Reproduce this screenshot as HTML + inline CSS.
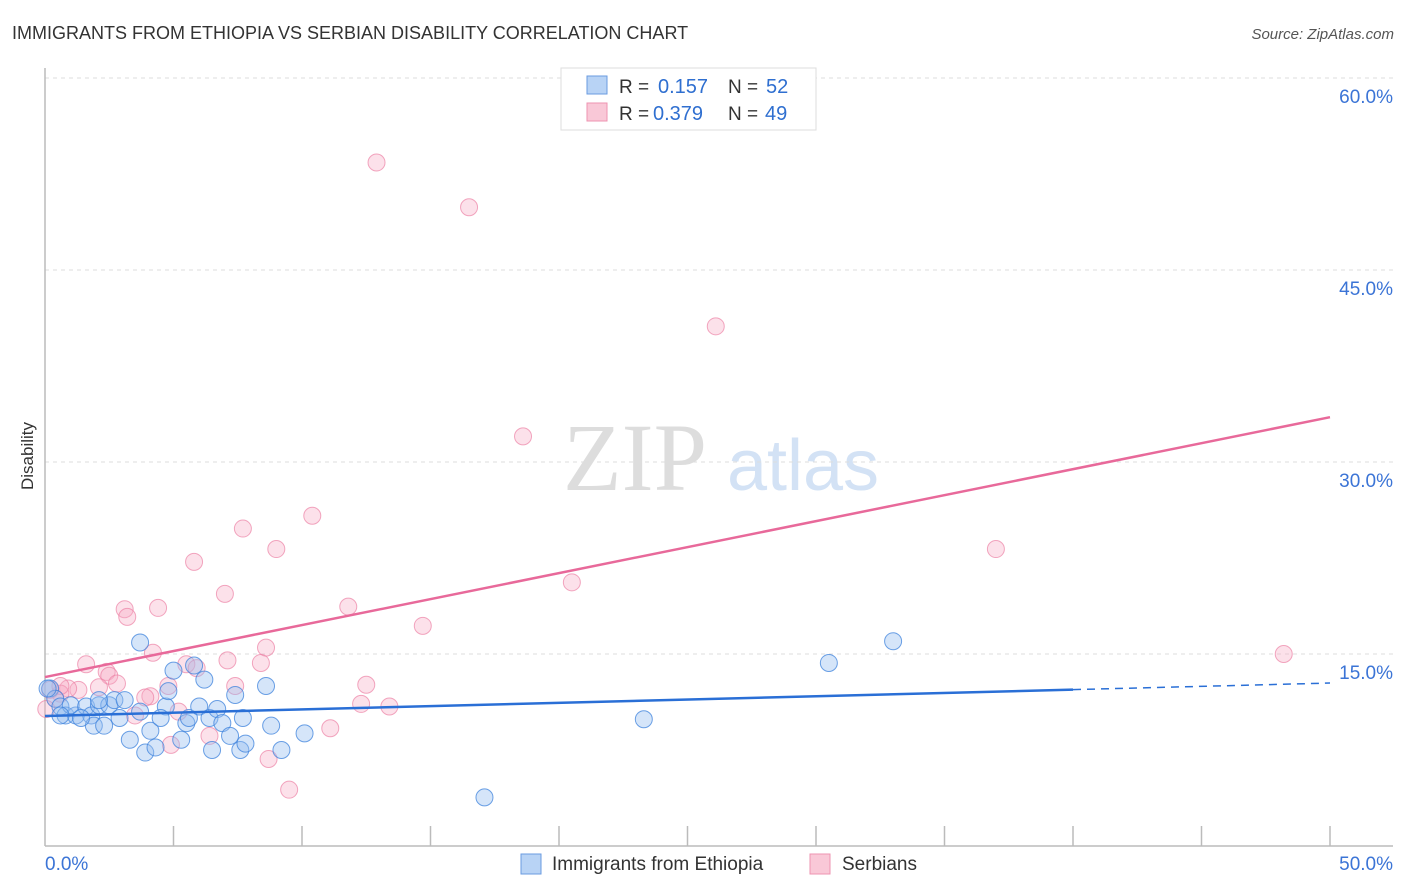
<!DOCTYPE html>
<html><head><meta charset="utf-8"><style>
body{margin:0;background:#fff;font-family:"Liberation Sans",sans-serif;}
svg{display:block}
</style></head><body>
<svg id="chart" width="1406" height="892">
<text x="12" y="39" font-size="18" fill="#333">IMMIGRANTS FROM ETHIOPIA VS SERBIAN DISABILITY CORRELATION CHART</text>
<text x="1394" y="39" font-size="15" fill="#555" font-style="italic" text-anchor="end">Source: ZipAtlas.com</text>
<text x="33" y="456" font-size="17" fill="#333" text-anchor="middle" transform="rotate(-90 33 456)">Disability</text>
<g>
<text x="635" y="490" font-size="96" fill="#ddd" font-family="Liberation Serif,serif" text-anchor="middle">ZIP</text>
<text x="803" y="490" font-size="72" fill="#d3e2f5" text-anchor="middle">atlas</text>
</g>
<g id="grid"></g>
<g id="axes"></g>
<g id="pts"></g>
<g id="lines"></g>
<g>
<rect x="561" y="68" width="255" height="62" fill="#fff" stroke="#ddd"/>
<rect x="587" y="76" width="20" height="18" fill="#b8d3f5" stroke="#6a9be0"/>
<rect x="587" y="103" width="20" height="18" fill="#f9c8d7" stroke="#ee93b0"/>
<text x="619" y="93" font-size="19" fill="#333">R =</text>
<text x="658" y="93" font-size="20" fill="#2f6fd0">0.157</text>
<text x="728" y="93" font-size="19" fill="#333">N =</text>
<text x="766" y="93" font-size="20" fill="#2f6fd0">52</text>
<text x="619" y="120" font-size="19" fill="#333">R =</text>
<text x="653" y="120" font-size="20" fill="#2f6fd0">0.379</text>
<text x="728" y="120" font-size="19" fill="#333">N =</text>
<text x="765" y="120" font-size="20" fill="#2f6fd0">49</text>
</g>
<g>
<rect x="521" y="854" width="20" height="20" fill="#b8d3f5" stroke="#6a9be0"/>
<text x="552" y="870" font-size="19" fill="#333">Immigrants from Ethiopia</text>
<rect x="810" y="854" width="20" height="20" fill="#f9c8d7" stroke="#ee93b0"/>
<text x="842" y="870" font-size="19" fill="#333">Serbians</text>
</g>
</svg>
<script>
const yTicks=[15,30,45,60];
const xTickLabels=["0.0%","50.0%"];
const blueX=[0.2,0.4,0.6,0.8,1.2,1.0,1.6,1.8,1.9,2.1,2.3,2.5,2.7,2.9,3.1,3.3,3.7,3.7,3.9,4.1,4.3,4.7,4.8,5.0,5.3,5.5,5.6,5.8,6.0,6.2,6.4,6.5,6.7,6.9,7.2,7.4,7.6,7.7,7.8,8.6,8.8,9.2,10.1,17.1,23.3,30.5,33.0,0.6,1.4,4.5,2.1,0.1];
const blueY=[12.3,11.5,10.9,10.2,10.2,11.0,10.9,10.2,9.4,11.0,9.4,11.0,11.4,10.0,11.4,8.3,15.9,10.5,7.3,9.0,7.7,10.9,12.1,13.7,8.3,9.6,10.0,14.1,10.9,13.0,10.0,7.5,10.7,9.6,8.6,11.8,7.5,10.0,8.0,12.5,9.4,7.5,8.8,3.8,9.9,14.3,16.0,10.2,10.0,10.0,11.4,12.3];
const pinkX=[12.9,16.5,26.1,18.6,37.0,20.5,48.2,10.4,7.7,9.0,5.8,7.0,11.8,3.1,4.4,3.2,14.7,8.6,4.2,1.6,8.4,7.1,5.5,5.9,2.4,2.5,2.8,12.5,7.4,4.8,2.1,1.3,0.9,0.6,0.2,4.1,3.9,12.3,13.4,3.5,5.2,11.1,6.4,4.9,8.7,9.5,0.6,0.4,0.05];
const pinkY=[53.4,49.9,40.6,32.0,23.2,20.6,15.0,25.8,24.8,23.2,22.2,19.7,18.7,18.5,18.6,17.9,17.2,15.5,15.1,14.2,14.3,14.5,14.2,13.9,13.6,13.3,12.7,12.6,12.5,12.5,12.4,12.2,12.3,11.9,12.2,11.7,11.6,11.1,10.9,10.2,10.5,9.2,8.6,7.9,6.8,4.4,12.5,11.5,10.7];
const blueLine=[10.16,12.73];
const pinkLine=[13.2,33.5];
const NS="http://www.w3.org/2000/svg";
const X=v=>45+v/50*1285, Y=v=>846-v*192/15;
function mk(tag,attrs,parent){const e=document.createElementNS(NS,tag);for(const k in attrs)e.setAttribute(k,attrs[k]);parent.appendChild(e);return e;}
const grid=document.getElementById('grid'),axes=document.getElementById('axes'),pts=document.getElementById('pts'),lines=document.getElementById('lines');
yTicks.forEach(t=>{
 const l=mk('line',{x1:45,x2:1393,y1:Y(t),y2:Y(t),stroke:'#ddd','stroke-dasharray':'4,4'},grid);
 
 
 const tx=mk('text',{x:1393,y:Y(t)+25,'font-size':19,fill:'#3b74d6','text-anchor':'end'},axes);
 tx.textContent=t.toFixed(1)+'%';
 
 
});
const la=mk('line',{x1:45,x2:45,y1:68,y2:846,stroke:'#bbb','stroke-width':1.5},axes);


const lb=mk('line',{x1:45,x2:1393,y1:846,y2:846,stroke:'#bbb','stroke-width':1.5},axes);


for(let i=1;i<=10;i++){const t=mk('line',{x1:X(i*5),x2:X(i*5),y1:826,y2:846,stroke:'#bbb','stroke-width':1.5},axes);
 
 }
[[0,'start',45],[50,'end',1393]].forEach((d,i)=>{const t=mk('text',{x:d[2],y:870,'font-size':19,fill:'#3b74d6','text-anchor':d[1]},axes);t.textContent=xTickLabels[i];
 
 });
pinkX.forEach((x,i)=>{const c=mk('circle',{cx:X(x),cy:Y(pinkY[i]),r:8.5,fill:'rgba(246,170,195,0.35)',stroke:'rgba(236,130,165,0.7)','stroke-width':1},pts);
 
 });
blueX.forEach((x,i)=>{const c=mk('circle',{cx:X(x),cy:Y(blueY[i]),r:8.5,fill:'rgba(150,190,240,0.4)',stroke:'rgba(60,130,220,0.75)','stroke-width':1},pts);
 
 });
const bAt=v=>blueLine[0]+(blueLine[1]-blueLine[0])*v/50;
const b1=mk('line',{x1:X(0),y1:Y(bAt(0)),x2:X(40),y2:Y(bAt(40)),stroke:'#2a6fd6','stroke-width':2.5},lines);


const b2=mk('line',{x1:X(40),y1:Y(bAt(40)),x2:X(50),y2:Y(bAt(50)),stroke:'#2a6fd6','stroke-width':1.5,'stroke-dasharray':'8,6'},lines);


const p1=mk('line',{x1:X(0),y1:Y(pinkLine[0]),x2:X(50),y2:Y(pinkLine[1]),stroke:'#e8699a','stroke-width':2.5},lines);


</script>
</body></html>
